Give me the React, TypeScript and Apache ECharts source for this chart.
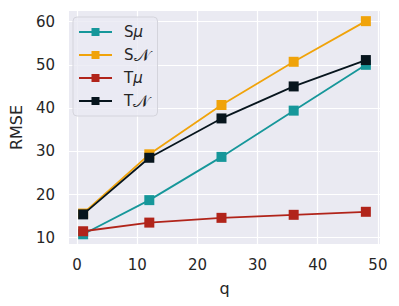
import React, { useEffect, useRef } from "react";
import * as echarts from "echarts";

const qValues = [1, 12, 24, 36, 48];
const seriesNames = ["Sμ", "S𝒩", "Tμ", "T𝒩"];
const sMu = [10.8, 18.7, 28.7, 39.4, 50.0];
const sN = [15.6, 29.3, 40.7, 50.7, 60.1];
const tMu = [11.5, 13.5, 14.6, 15.3, 16.0];
const tN = [15.4, 28.5, 37.6, 45.0, 51.1];
const xTicks = [0, 10, 20, 30, 40, 50];
const yTicks = [10, 20, 30, 40, 50, 60];
const colors = ["#16979a", "#f0a30a", "#b1241a", "#07151d"];

export default function App() {
  const ref = useRef<HTMLDivElement>(null);
  useEffect(() => {
    const chart = echarts.init(ref.current!, undefined, { renderer: "svg" });
    const all = [sMu, sN, tMu, tN];
    const font = "DejaVu Sans";
    chart.setOption({
      animation: false,
      textStyle: { fontFamily: font },
      grid: {
        left: 67,
        top: 11,
        right: 19,
        bottom: 62,
        show: true,
        backgroundColor: "#EAEAF2",
        borderWidth: 0,
      },
      legend: {
        orient: "vertical",
        left: 73,
        top: 17,
        itemWidth: 33,
        itemHeight: 10,
        itemGap: 5,
        padding: [6, 8, 6, 5],
        backgroundColor: "rgba(234,234,242,0.8)",
        borderColor: "#d4d4dc",
        borderWidth: 1,
        borderRadius: 4,
        data: seriesNames,
        formatter: (name: string) =>
          name[0] + (name[1] === "μ" ? "{i|μ}" : "{n|" + name.slice(1) + "}"),
        textStyle: {
          fontFamily: font,
          fontSize: 15,
          lineHeight: 18,
          color: "#262626",
          padding: [0, 0, 0, 7],
          rich: {
            i: { fontStyle: "italic", fontSize: 15, lineHeight: 18, fontFamily: font, color: "#262626" },
            n: { fontSize: 17, lineHeight: 18, color: "#262626" },
          },
        },
      },
      xAxis: {
        type: "value",
        min: -1.35,
        max: 50.35,
        name: "q",
        nameLocation: "middle",
        nameGap: 36,
        nameTextStyle: { fontSize: 16, color: "#262626", fontFamily: font },
        axisLine: { show: false },
        axisTick: { show: false, customValues: xTicks },
        axisLabel: { customValues: xTicks, fontSize: 15, color: "#262626", margin: 13, fontFamily: font },
        splitLine: { show: true, lineStyle: { color: "#ffffff", width: 1.2 } },
      },
      yAxis: {
        type: "value",
        min: 8.55,
        max: 62.45,
        name: "RMSE",
        nameLocation: "middle",
        nameGap: 45,
        nameTextStyle: { fontSize: 16, color: "#262626", fontFamily: font },
        axisLine: { show: false },
        axisTick: { show: false, customValues: yTicks },
        axisLabel: { customValues: yTicks, fontSize: 15, color: "#262626", margin: 14, fontFamily: font },
        splitLine: { show: true, lineStyle: { color: "#ffffff", width: 1.2 } },
      },
      series: seriesNames.map((n, i) => ({
        name: n,
        type: "line",
        data: qValues.map((q, j) => [q, all[i][j]]),
        symbol: "rect",
        symbolSize: 10,
        color: colors[i],
        lineStyle: { width: 1.8, color: colors[i] },
        itemStyle: { color: colors[i] },
        z: 2 + i,
      })),
    });
    return () => chart.dispose();
  }, []);
  return <div ref={ref} style={{ width: 399, height: 306, position: "absolute", left: 0, top: 0 }} />;
}
